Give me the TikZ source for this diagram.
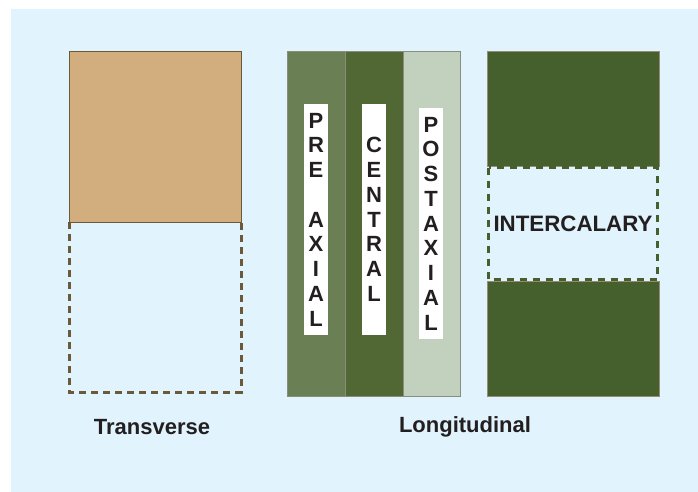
\documentclass[tikz,border=0pt]{standalone}
\usepackage{fontspec}
\setmainfont{Liberation Sans}
\definecolor{bgblue}{HTML}{E1F3FC}
\definecolor{tanfill}{HTML}{D2AE7E}
\definecolor{brownline}{HTML}{6B5A3A}
\definecolor{stripA}{HTML}{6B7F55}
\definecolor{stripB}{HTML}{516834}
\definecolor{stripC}{HTML}{C1D1BD}
\definecolor{stripedge}{HTML}{8C8B7C}
\definecolor{igreen}{HTML}{46602D}
\definecolor{txt}{HTML}{231F20}
\begin{document}
\begin{tikzpicture}[x=1pt,y=-1pt,
  solidbox/.style={draw=brownline,line width=0.8pt},
  stripbox/.style={draw=stripedge,line width=0.8pt},
  dashbrown/.style={draw=brownline,line width=3pt,dash pattern=on 7pt off 5pt},
  dashgreen/.style={draw=igreen,line width=3pt,dash pattern=on 7pt off 6pt},
  vlabel/.style={fill=white,inner sep=0pt,minimum width=24pt,minimum height=231pt,
    align=center,text=txt,font=\bfseries\fontsize{22}{24.75}\selectfont},
  caption/.style={text=txt,font=\bfseries\fontsize{22}{26}\selectfont,inner sep=0pt}]
\useasboundingbox (0,0) rectangle (698,492);
\fill[bgblue] (11,9) rectangle (698,492);
% transverse
\draw[solidbox,fill=tanfill] (69,51) rectangle (241,222);
\draw[dashbrown] (69,222) -- (69,392) -- (241,392) -- (241,222);
% longitudinal strips
\draw[stripbox,fill=stripA] (287,51) rectangle (345,396);
\draw[stripbox,fill=stripB] (345,51) rectangle (403,396);
\draw[stripbox,fill=stripC] (403,51) rectangle (460,396);
\node[vlabel] (pre) at (316,219.5) {P\\R\\E\\[24.75pt]A\\X\\I\\A\\L};
\node[vlabel] (cen) at (374,219.5) {C\\E\\N\\T\\R\\A\\L};
\node[vlabel] (post) at (431,223.5) {P\\O\\S\\T\\A\\X\\I\\A\\L};
% intercalary
\draw[stripbox,draw=brownline!70,fill=igreen] (487,51) rectangle (659,166);
\draw[stripbox,draw=brownline!70,fill=igreen] (487,281) rectangle (659,396);
\draw[dashgreen] (488.5,167.5) rectangle (657,279.5);
\node[text=txt,font=\bfseries\fontsize{22.3}{26}\selectfont,inner sep=0pt] (inter) at (573,224) {INTERCALARY};
% captions
\node[caption] (trans) at (152,427) {Transverse};
\node[caption] (longi) at (465,427) {Longitudinal};
\end{tikzpicture}
\end{document}
